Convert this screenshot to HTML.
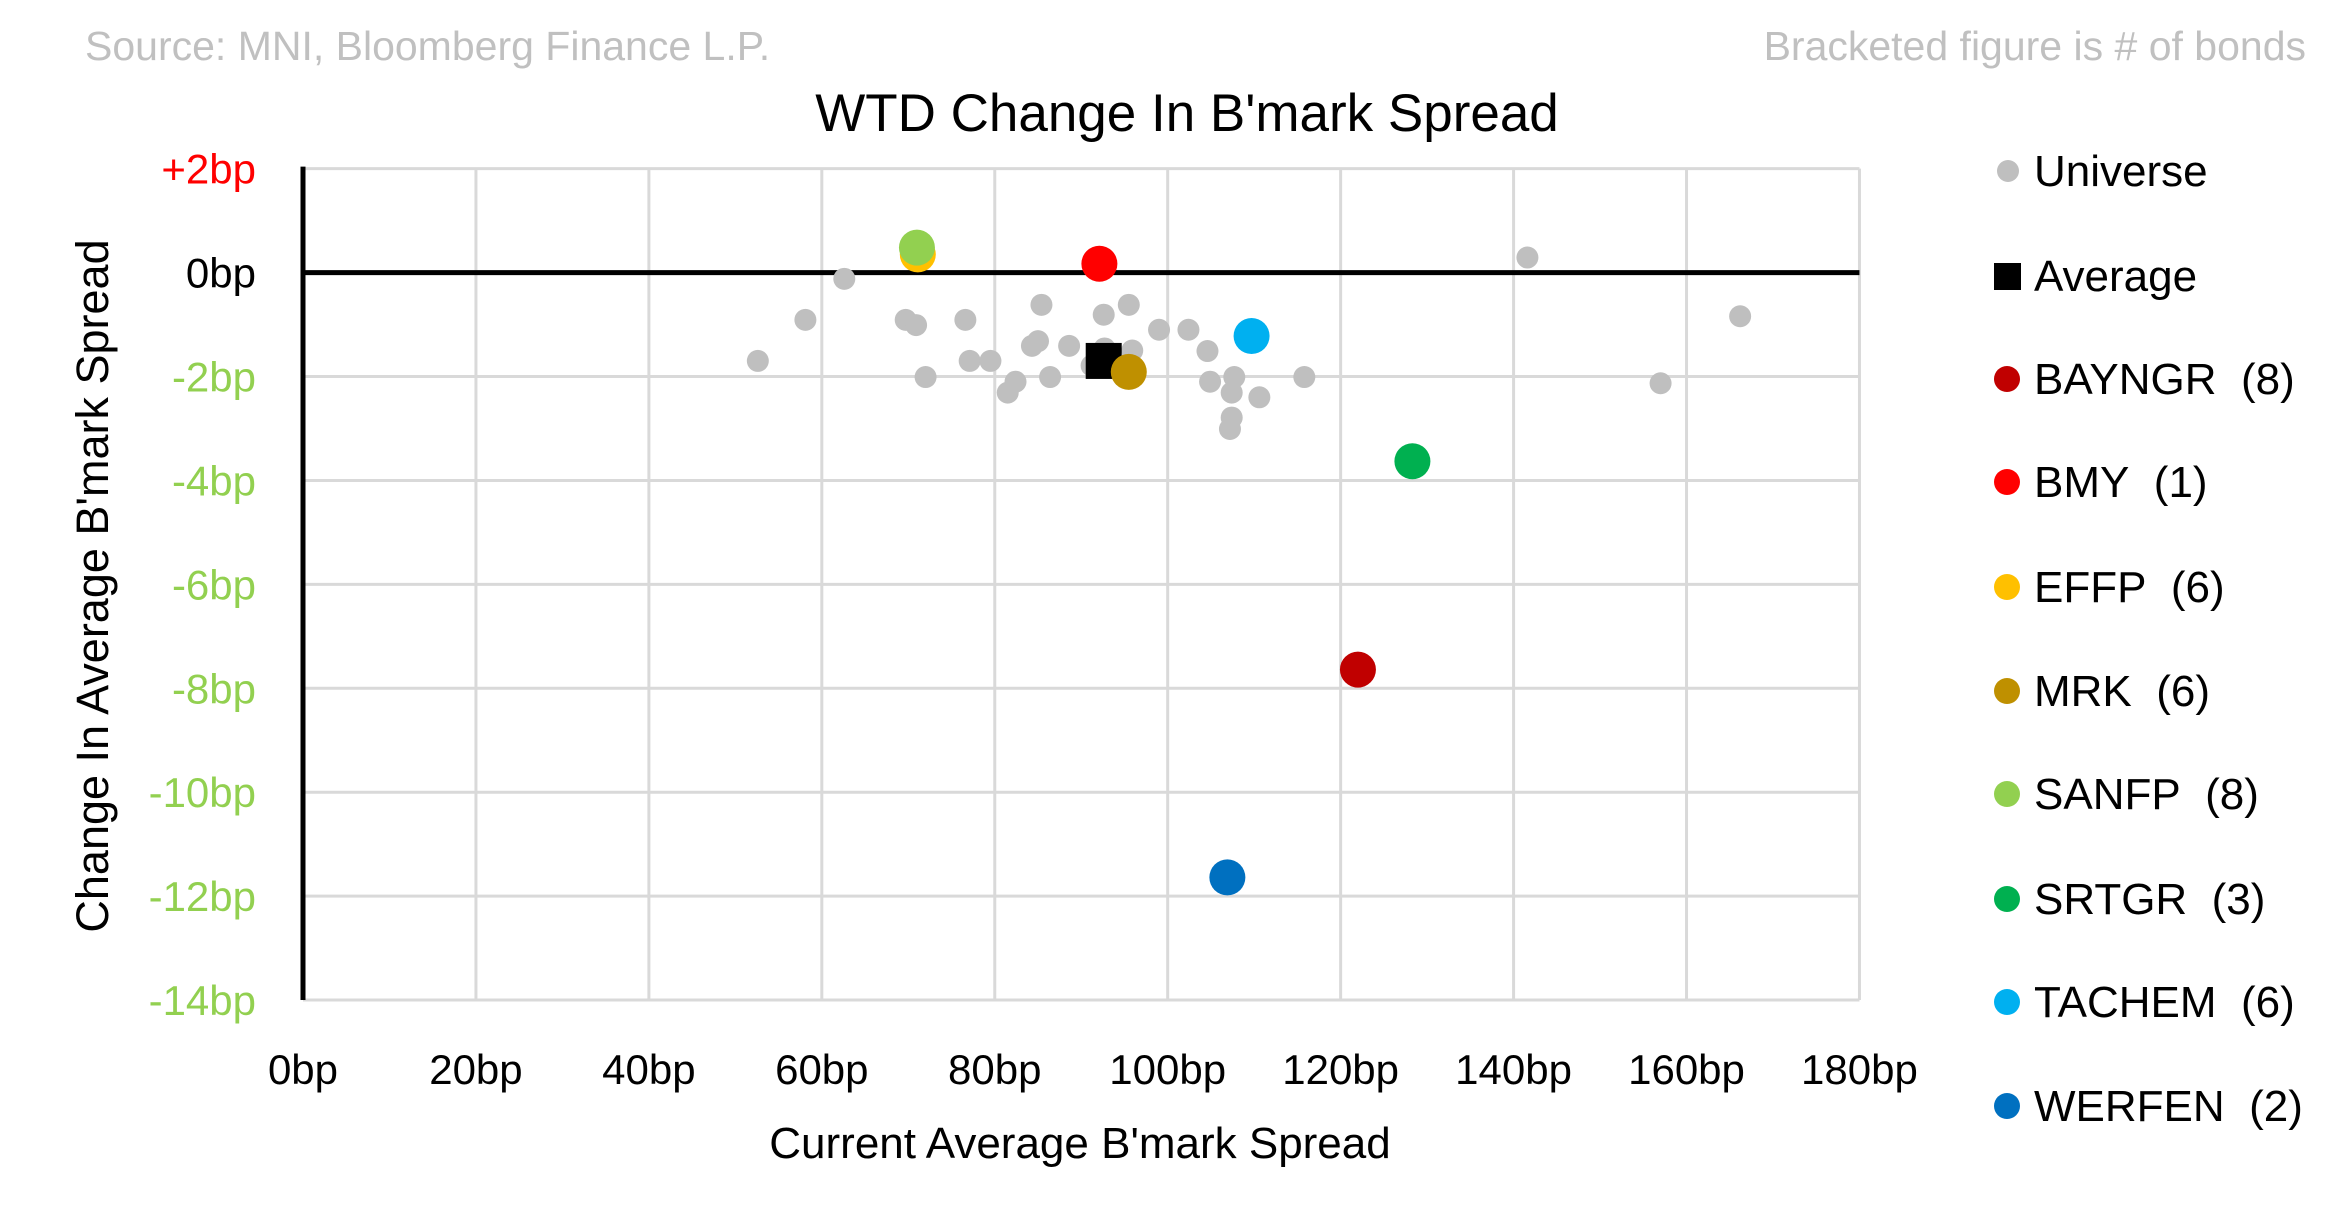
<!DOCTYPE html>
<html><head><meta charset="utf-8"><style>
html,body{margin:0;padding:0;background:#fff;}
svg{display:block;font-family:"Liberation Sans",sans-serif;}
text{white-space:pre;}
</style></head><body>
<svg id="chart" width="2326" height="1219" viewBox="0 0 2326 1219" xmlns="http://www.w3.org/2000/svg">
<text x="85" y="60" font-size="41" fill="#c0c0c0">Source: MNI, Bloomberg Finance L.P.</text>
<text x="2306" y="60" font-size="41" fill="#c0c0c0" text-anchor="end">Bracketed figure is # of bonds</text>
<text x="1187" y="131" font-size="53" fill="#000" text-anchor="middle">WTD Change In B'mark Spread</text>
<g id="grid"></g>
<g id="axes"></g>
<g id="marks"></g>
<g id="legend"></g>
<text x="1080" y="1158" font-size="44" text-anchor="middle">Current Average B'mark Spread</text>
<text transform="translate(108,586) rotate(-90)" font-size="45" text-anchor="middle">Change In Average B'mark Spread</text>
</svg>
<script>
const xTicks = [0,20,40,60,80,100,120,140,160,180];
const yTicks = [2,0,-2,-4,-6,-8,-10,-12,-14];
const universeX = [62.6,58.1,52.6,69.7,70.9,76.6,72.0,77.1,79.5,85.4,85.0,84.3,88.6,82.4,81.5,86.4,92.6,95.5,92.7,95.9,91.2,99.0,102.4,104.6,104.9,107.7,107.4,110.6,115.8,107.4,107.2,141.6,157.0,166.2];
const universeY = [-0.12,-0.91,-1.70,-0.91,-1.01,-0.91,-2.01,-1.70,-1.70,-0.62,-1.32,-1.41,-1.41,-2.10,-2.31,-2.01,-0.81,-0.62,-1.46,-1.50,-1.79,-1.10,-1.10,-1.51,-2.10,-2.01,-2.31,-2.40,-2.01,-2.79,-3.01,0.29,-2.13,-0.84];
const avgX = [92.6];
const avgY = [-1.70];
const issuerNames = ["BAYNGR","BMY","EFFP","MRK","SANFP","SRTGR","TACHEM","WERFEN"];
const issuerCounts = [8,1,6,6,8,3,6,2];
const issuerX = [122.0,92.1,71.1,95.5,71.0,128.3,109.7,106.9];
const issuerY = [-7.64,0.17,0.35,-1.91,0.48,-3.63,-1.22,-11.64];
const issuerColors = ["#c00000","#ff0000","#ffc000","#bf9000","#92d050","#00b050","#00b0f0","#0070c0"];

const NS="http://www.w3.org/2000/svg";
const X0=303, XPB=8.647, Y0=272.6, YPB=51.96;
const sx=v=>X0+v*XPB, sy=v=>Y0-v*YPB;
function mk(parent,tag,attrs){const e=document.createElementNS(NS,tag);for(const k in attrs)e.setAttribute(k,attrs[k]);parent.appendChild(e);return e;}
const grid=document.getElementById('grid'), axes=document.getElementById('axes'), marks=document.getElementById('marks'), legend=document.getElementById('legend');
const yMax=yTicks[0], yMin=yTicks[yTicks.length-1], xMax=xTicks[xTicks.length-1];
xTicks.forEach(t=>{
  if(t>0){const l=mk(grid,'line',{x1:sx(t),x2:sx(t),y1:sy(yMax),y2:sy(yMin),stroke:'#d9d9d9','stroke-width':3});
  
  }
  const tx=mk(axes,'text',{x:sx(t),y:1084,'font-size':42,'text-anchor':'middle'});tx.textContent=t+'bp';
  
  
});
yTicks.forEach(t=>{
  if(t!==0){const l=mk(grid,'line',{x1:sx(0),x2:sx(xMax),y1:sy(t),y2:sy(t),stroke:'#d9d9d9','stroke-width':3});
  
  }
  const col=t>0?'#ff0000':(t===0?'#000':'#92d050');
  const tx=mk(axes,'text',{x:256,y:sy(t)+15,'font-size':42,'text-anchor':'end',fill:col});tx.textContent=(t>0?'+':'')+t+'bp';
  
  
});
const ya=mk(axes,'line',{x1:sx(0),x2:sx(0),y1:sy(yMax)-2,y2:sy(yMin),stroke:'#000','stroke-width':5});


const za=mk(axes,'line',{x1:sx(0),x2:sx(xMax),y1:sy(0),y2:sy(0),stroke:'#000','stroke-width':5});


universeX.forEach((x,i)=>{
  const c=mk(marks,'circle',{cx:sx(x),cy:sy(universeY[i]),r:11,fill:'#bfbfbf'});
  
  
});
avgX.forEach((x,i)=>{
  const r=mk(marks,'rect',{x:sx(x)-18,y:sy(avgY[i])-18,width:36,height:36,fill:'#000'});
  
  
});
issuerNames.forEach((n,i)=>{
  const c=mk(marks,'circle',{cx:sx(issuerX[i]),cy:sy(issuerY[i]),r:18,fill:issuerColors[i]});
  
  
});
const LY=[171,276,379,482,587,691,794,899,1002,1106];
const lu=mk(legend,'circle',{cx:2008,cy:LY[0],r:11,fill:'#bfbfbf'});


const lt0=mk(legend,'text',{x:2034,y:LY[0]+15,'font-size':44});lt0.textContent='Universe';


const la=mk(legend,'rect',{x:1994,y:LY[1]-13,width:27,height:27,fill:'#000'});


const lt1=mk(legend,'text',{x:2034,y:LY[1]+15,'font-size':44});lt1.textContent='Average';


issuerNames.forEach((n,i)=>{
  const y=LY[i+2];
  const c=mk(legend,'circle',{cx:2007,cy:y,r:13,fill:issuerColors[i]});
  
  
  const t=mk(legend,'text',{x:2034,y:y+15,'font-size':44});t.textContent=n+'\u00a0\u00a0('+issuerCounts[i]+')';
  
  
});
</script>
</body></html>
